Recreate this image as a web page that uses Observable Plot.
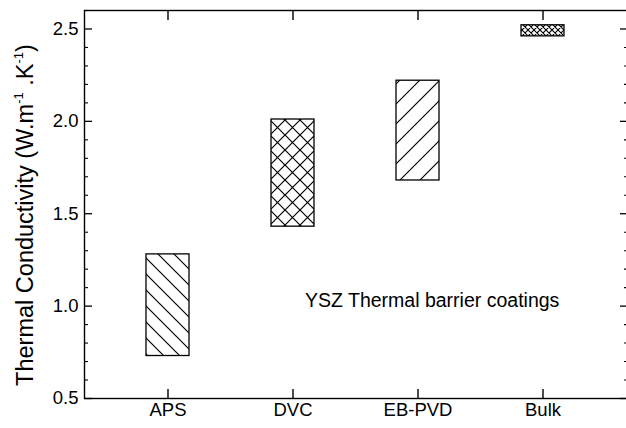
<!DOCTYPE html>
<html><head><meta charset="utf-8">
<script src="https://cdn.jsdelivr.net/npm/d3@7"></script>
<script src="https://cdn.jsdelivr.net/npm/@observablehq/plot@0.6"></script>
<style>body{margin:0;background:#fff;overflow:hidden} svg{display:block}</style>
</head><body><div id="chart"></div>
<script>
// ---- data ----
const categories = ["APS", "DVC", "EB-PVD", "Bulk"];
const lowValues  = [0.73, 1.43, 1.68, 2.46];
const highValues = [1.28, 2.01, 2.22, 2.52];
const patternIds = ["hatch-back", "cross", "hatch-fwd", "cross-fine"];
const yMajorTicks = [0.5, 1.0, 1.5, 2.0, 2.5];
const yMinorTicks = [0.6, 0.7, 0.8, 0.9, 1.1, 1.2, 1.3, 1.4, 1.6, 1.7, 1.8, 1.9, 2.1, 2.2, 2.3, 2.4, 2.6];
const yTickLabels = ["0.5", "1.0", "1.5", "2.0", "2.5"];
const noteText = "YSZ Thermal barrier coatings";
const noteCategory = "DVC";
const noteValue = 1.03;
const yLabelMain = "Thermal Conductivity (W.m";
const yLabelUnitK = " .K";
const yLabelSup = "-1";

const rows = categories.map((c, i) => ({cat: c, lo: lowValues[i], hi: highValues[i], pat: `url(#${patternIds[i]})`}));

const W = 626, H = 428;
const font = "Arial, 'Liberation Sans', sans-serif";

const plot = Plot.plot({
  width: W, height: H,
  marginLeft: 84, marginRight: -1, marginTop: 10, marginBottom: 30,
  style: {fontFamily: font, fontSize: "18.5px", color: "black", background: "white", overflow: "hidden"},
  x: {domain: categories, paddingInner: 0.653, paddingOuter: 0.49},
  y: {domain: [0.5, 2.6]},
  color: {type: "identity"},
  marks: [
    Plot.barY(rows, {x: "cat", y1: "lo", y2: "hi", fill: "pat", stroke: "black", strokeWidth: 1.3}),
    Plot.frame({stroke: "black", strokeWidth: 1.4}),
    // left axis
    Plot.axisY(yMajorTicks, {anchor: "left", tickSize: -8, fill: "none", strokeWidth: 1.3}),
    Plot.axisY(yMinorTicks, {anchor: "left", tickSize: -4, fill: "none", strokeWidth: 1.1}),
    Plot.axisY(yMajorTicks, {anchor: "left", tickSize: 0, tickPadding: 6, tickFormat: (d, i) => yTickLabels[i], fontSize: 18.5}),
    // right axis
    Plot.axisY(yMajorTicks, {anchor: "right", tickSize: -8, fill: "none", strokeWidth: 1.3}),
    Plot.axisY(yMinorTicks, {anchor: "right", tickSize: -4, fill: "none", strokeWidth: 1.1}),
    // bottom axis
    Plot.axisX(categories, {anchor: "bottom", tickSize: -9, fill: "none", strokeWidth: 1.4}),
    Plot.axisX(categories, {anchor: "bottom", tickSize: 0, tickPadding: 4, fontSize: 18.5, label: null}),
    // top axis
    Plot.axisX(categories, {anchor: "top", tickSize: -9, fill: "none", strokeWidth: 1.4}),
    // annotation
    Plot.text([noteText], {x: () => noteCategory, y: () => noteValue, text: d => d, textAnchor: "start", dx: 12, fontSize: 19.5, fill: "black"})
  ]
});

const svg = d3.select(plot);
const defs = svg.insert("defs", ":first-child");
function addPattern(id, size, dirs, sw) {
  const p = defs.append("pattern").attr("id", id).attr("patternUnits", "userSpaceOnUse")
    .attr("width", size).attr("height", size);
  p.append("rect").attr("width", size).attr("height", size).attr("fill", "white");
  const s = size;
  let d = "";
  if (dirs.includes("back")) d += `M-1,-1L${s+1},${s+1}M-1,${s-1}L1,${s+1}M${s-1},-1L${s+1},1`;
  if (dirs.includes("fwd")) d += `M-1,${s+1}L${s+1},-1M-1,1L1,-1M${s-1},${s+1}L${s+1},${s-1}`;
  p.append("path").attr("d", d).attr("stroke", "black").attr("stroke-width", sw).attr("fill", "none");
}
addPattern("hatch-back", 16, ["back"], 1.2);
addPattern("hatch-fwd", 20, ["fwd"], 1.2);
addPattern("cross", 15, ["back", "fwd"], 1.2);
addPattern("cross-fine", 6, ["back", "fwd"], 1.1);

// y-axis title with superscripts
const yMid = 215;
const t = svg.append("text")
  .attr("transform", `translate(33,${yMid}) rotate(-90)`)
  .attr("text-anchor", "middle")
  .attr("font-family", font)
  .attr("font-size", 23.5)
  .attr("fill", "black");
t.append("tspan").text(yLabelMain);
t.append("tspan").attr("font-size", 13).attr("dy", -10).text(yLabelSup);
t.append("tspan").attr("dy", 10).text(yLabelUnitK);
t.append("tspan").attr("font-size", 13).attr("dy", -10).text(yLabelSup);
t.append("tspan").attr("dy", 10).text(")");

document.getElementById("chart").appendChild(plot);
</script>
</body></html>
